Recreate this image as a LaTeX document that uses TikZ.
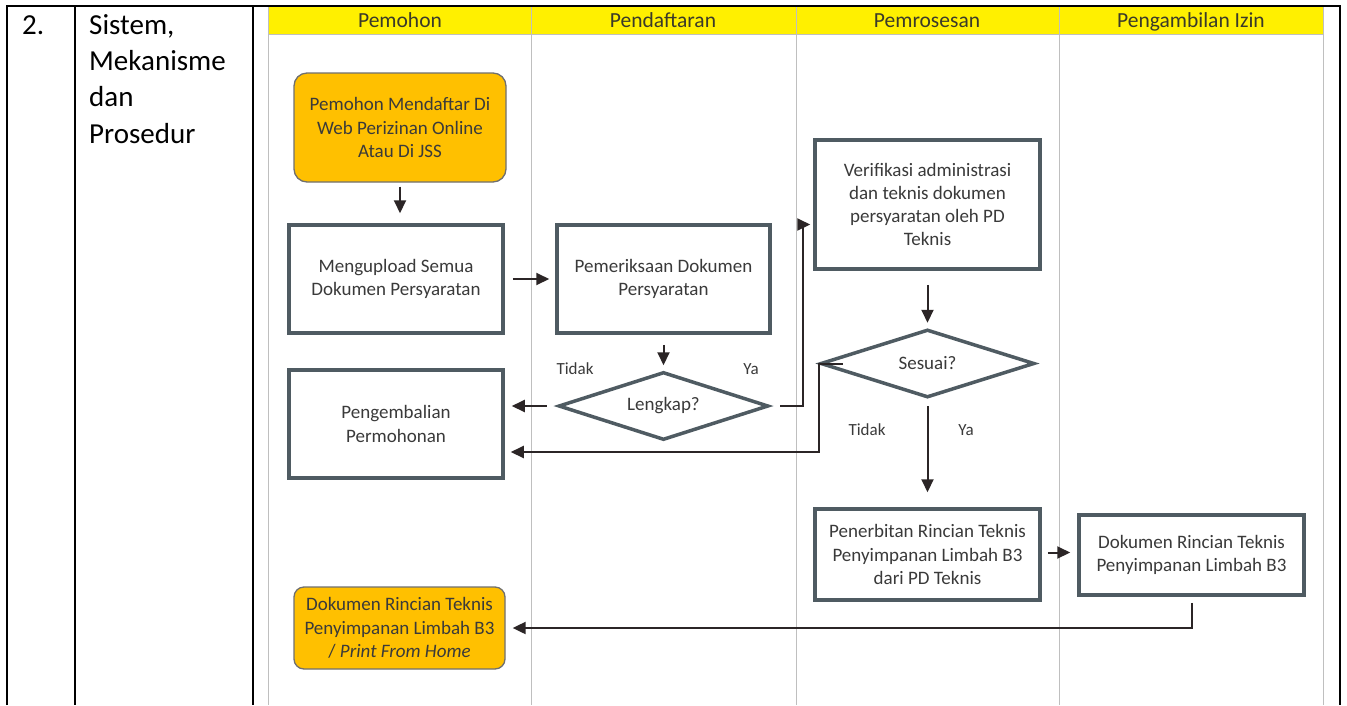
\documentclass[tikz,border=0pt]{standalone}
\usepackage{fontspec}
\setmainfont{Carlito}
\usetikzlibrary{shapes.geometric,arrows.meta,calc}
\definecolor{boxline}{HTML}{4F5B62}
\definecolor{arrowc}{HTML}{2B2526}
\definecolor{orangef}{HTML}{FFC000}
\definecolor{orangeb}{HTML}{6F6F6F}
\definecolor{headyel}{HTML}{FFF000}
\definecolor{lanegray}{HTML}{BFBFBF}
\definecolor{txt}{HTML}{3A3A3A}
\definecolor{headtxt}{HTML}{3A3A2A}
\tikzset{
  flowtext/.style={text=txt, align=center, font=\fontsize{19}{23.3}\selectfont},
  procbox/.style={flowtext, draw=boxline, line width=3.5pt, fill=white, inner sep=2pt},
  termbox/.style={flowtext, draw=orangeb, line width=1.3pt, fill=orangef, rounded corners=13pt, inner sep=2pt},
  decision/.style={flowtext, diamond, aspect=3, draw=boxline, line width=3.5pt, fill=white, inner sep=0pt},
  lanehead/.style={text=headtxt, font=\fontsize{21.5}{24}\selectfont, anchor=base},
  branch/.style={text=txt, font=\fontsize{17}{20}\selectfont, anchor=center},
  arr/.style={draw=arrowc, line width=2pt, -{Triangle[length=13pt,width=12pt]}},
  tableline/.style={draw=black, line width=2pt},
  laneline/.style={draw=lanegray, line width=0.9pt}
}
\begin{document}
\begin{tikzpicture}[x=1pt,y=-1pt]
\useasboundingbox (0,0) rectangle (1347,705);
\fill[white] (0,0) rectangle (1347,705);
% swimlane header
\fill[headyel] (268,7) rectangle (1323,34);
\draw[laneline] (268,34) -- (1323,34);
\foreach \x in {268,531,796,1059,1323} \draw[laneline] (\x,7) -- (\x,705);
\node[lanehead] (h1) at (400,27.5) {Pemohon};
\node[lanehead] (h2) at (663,27.5) {Pendaftaran};
\node[lanehead] (h3) at (927,27.5) {Pemrosesan};
\node[lanehead] (h4) at (1191,27.5) {Pengambilan Izin};
% table
\draw[tableline] (7,705) -- (7,6) -- (1340,6) -- (1340,705);
\draw[tableline] (75,6) -- (75,705);
\draw[tableline] (253,6) -- (253,705);
\node[anchor=base west, inner sep=0, font=\fontsize{29}{36}\selectfont] (num) at (22,34) {2.};
\node[anchor=north west, align=left, inner sep=0, font=\fontsize{29}{36.3}\selectfont] (rowlabel) at (89,14) {Sistem,\\Mekanisme\\dan\\Prosedur};
% nodes
\node[termbox, minimum width=212pt, minimum height=109pt] (start) at (400,127.5) {Pemohon Mendaftar Di\\Web Perizinan Online\\Atau Di JSS};
\node[procbox, minimum width=214pt, minimum height=108pt] (upload) at (396,279) {Mengupload Semua\\Dokumen Persyaratan};
\node[procbox, minimum width=213pt, minimum height=108pt] (periksa) at (663.5,279) {Pemeriksaan Dokumen\\Persyaratan};
\node[decision, minimum width=210pt, minimum height=68pt] (lengkap) at (663.5,406) {Lengkap?};
\node[procbox, minimum width=214pt, minimum height=108pt] (kembali) at (396,424) {Pengembalian\\Permohonan};
\node[procbox, minimum width=225pt, minimum height=129pt] (verif) at (927.5,204.5) {Verifikasi administrasi\\dan teknis dokumen\\persyaratan oleh PD\\Teknis};
\node[decision, minimum width=214pt, minimum height=68pt] (sesuai) at (927.5,363.5) {Sesuai?};
\node[procbox, minimum width=225pt, minimum height=91pt] (terbit) at (927.5,554.5) {Penerbitan Rincian Teknis\\Penyimpanan Limbah B3\\dari PD Teknis};
\node[procbox, minimum width=225pt, minimum height=80pt] (dokumen) at (1191.5,555) {Dokumen Rincian Teknis\\Penyimpanan Limbah B3};
\node[termbox, minimum width=211pt, minimum height=82pt, rounded corners=10pt] (final) at (399.5,628) {Dokumen Rincian Teknis\\Penyimpanan Limbah B3\\/ \textit{Print From Home}};
% branch labels
\node[branch] (t1) at (575,369) {Tidak};
\node[branch] (y1) at (751,369) {Ya};
\node[branch] (t2) at (867,430) {Tidak};
\node[branch] (y2) at (966,430) {Ya};
% connectors
\draw[arr, shorten <=4pt, shorten >=10pt] (start.south) -- (start.south |- upload.north);
\draw[arr, shorten <=8pt, shorten >=6pt] (upload.east) -- (periksa.west);
\draw[arr, shorten <=10pt, shorten >=5pt] (periksa.south) -- (lengkap.north);
\draw[arr, shorten <=10pt, shorten >=7pt] (lengkap.west) -- (lengkap.west -| kembali.east);
\draw[arr, shorten >=3pt] ([xshift=10pt]lengkap.east) -- ++(23,0) |- ([yshift=-20pt]verif.west);
\draw[arr, shorten <=14pt, shorten >=5pt] (verif.south) -- (verif.south |- sesuai.north);
\draw[arr, shorten >=6pt] ([xshift=24pt]sesuai.west) -- (sesuai.west) |- ([yshift=-28pt]kembali.east);
\draw[arr, shorten <=7pt, shorten >=15pt] (sesuai.south) -- (sesuai.south |- terbit.north);
\draw[arr, shorten <=6pt, shorten >=7pt] ([yshift=2pt]terbit.east) -- ([yshift=2pt]terbit.east -| dokumen.west);
\draw[arr, shorten <=6pt, shorten >=7pt] (dokumen.south) |- (final.east);
\end{tikzpicture}
\end{document}
